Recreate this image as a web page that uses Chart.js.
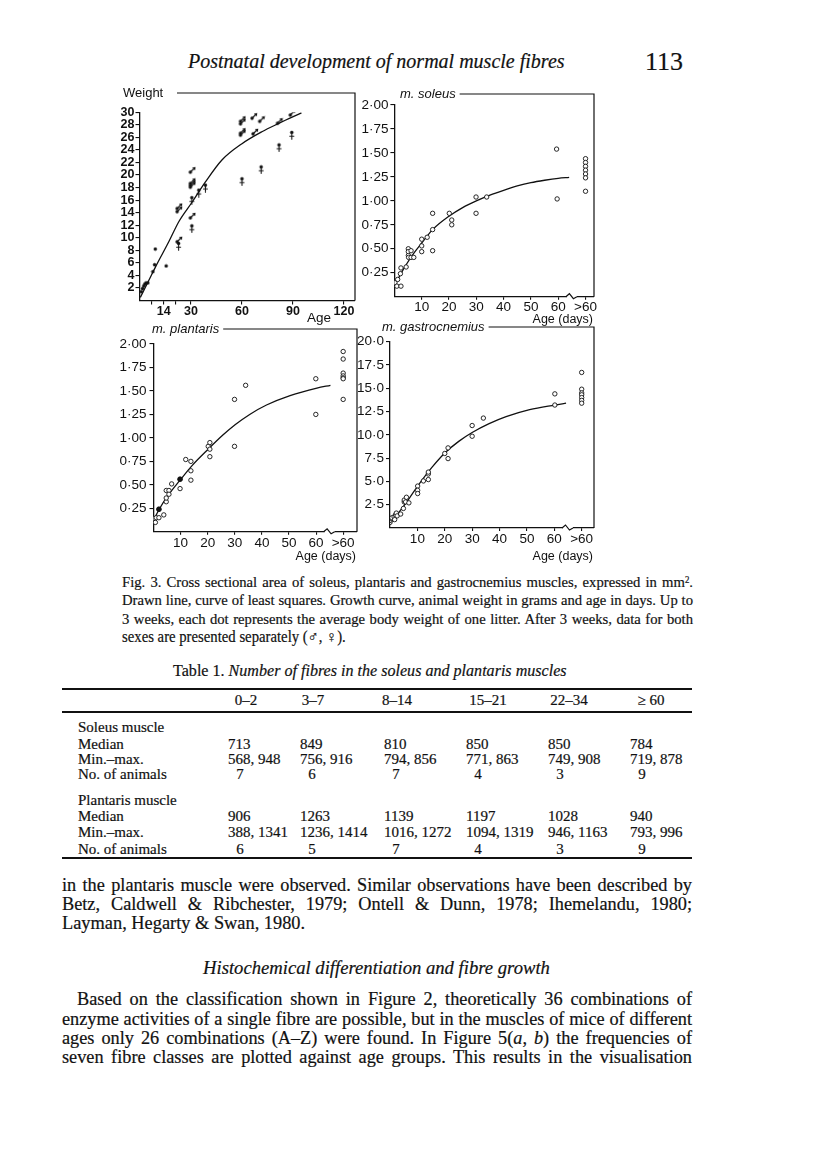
<!DOCTYPE html>
<html><head><meta charset="utf-8">
<script src="https://cdn.jsdelivr.net/npm/chart.js@4.4.1/dist/chart.umd.min.js"></script>
<style>
html,body{margin:0;padding:0;background:#fff;}
#page{position:relative;width:816px;height:1155px;overflow:hidden;background:#fff;color:#111;font-family:"Liberation Serif","Times New Roman",serif;-webkit-text-stroke:0.2px #111;}
.tl{position:absolute;white-space:nowrap;transform-origin:0 50%;}
.tj{position:absolute;white-space:normal;text-align:justify;text-align-last:justify;overflow:visible;transform-origin:0 50%;}
.rule{position:absolute;background:#111;}
canvas{position:absolute;}
sup{font-size:60%;vertical-align:0.45em;line-height:0;}
</style></head><body><div id="page"></div>
<script>
// ---------------- DATA ----------------
// Growth curve (body weight in g vs age in days)
const weightLitterDays   = [0.8, 1.5, 2.2, 2.8, 3.5, 4.6, 7.6, 8.6, 9.0, 15.4];
const weightLitterValues = [1.4, 1.9, 2.3, 2.6, 2.8, 2.8, 4.6, 5.7, 8.2, 5.5];
const weightMaleDays     = [22.7, 22.7, 22.7, 30.5, 30.5, 30.5, 30.5, 30.5, 60, 60, 60, 60, 66.8, 67.4, 71.3, 81.8, 89.3];
const weightMaleValues   = [14.9, 14.4, 9.6, 20.7, 18.9, 18.6, 18.3, 13.4, 28.8, 28.4, 26.9, 26.6, 29.3, 26.8, 28.8, 28.5, 29.8];
const weightFemaleDays   = [22.7, 30.5, 30.5, 34.6, 38.5, 60, 71.3, 81.8, 89.3];
const weightFemaleValues = [8.7, 16.0, 11.5, 17.2, 18.0, 19.0, 20.9, 24.4, 26.4];
const weightCurveDays    = [0.2, 5, 9.2, 17, 22.9, 30.7, 38.5, 48.2, 60, 71.7, 81.4, 95];
const weightCurveValues  = [0.5, 3.1, 5.4, 9.4, 12.6, 15.7, 18.9, 22.4, 25.0, 26.9, 28.2, 29.9];
const weightYTicks = [2,4,6,8,10,12,14,16,18,20,22,24,26,28,30];
const weightXTicks = [7,14,21,30,60,90,120];
const weightXLabels = ['', '14', '', '30', '60', '90', '120'];

// m. soleus (mm2); ">60" group plotted at 70
const soleusDays   = [0.2,0.9,2.4,1.2,2.2,2.4,4.3,5.1,5.1,5.1,5.2,6.1,6.1,7.1,10,10,10,12,14,14,14,20.1,21,21,29.9,29.9,33.8,59.4,59.6,70,70,70,70,70,70,70];
const soleusValues = [0.146,0.11,0.11,0.18,0.24,0.30,0.31,0.50,0.47,0.43,0.41,0.48,0.41,0.41,0.60,0.53,0.47,0.62,0.87,0.70,0.48,0.87,0.80,0.75,1.04,0.87,1.04,1.54,1.02,1.44,1.40,1.36,1.32,1.28,1.24,1.10];
const soleusCurveDays   = [0,2,4,7,10,14,20,25,30,35,40,45,50,55,60,64];
const soleusCurveValues = [0.12,0.22,0.32,0.45,0.56,0.70,0.84,0.93,1.0,1.06,1.11,1.155,1.19,1.215,1.235,1.245];

// m. plantaris (mm2)
const plantarisDays   = [0,0.7,1,2,3.8,4.7,4.7,4.7,5.7,5.7,6.7,9.8,11.9,13.8,13.8,13.8,20.2,20.8,20.8,20.8,29.9,29.9,34,59.9,59.9,70,70,70,70,70,70,70];
const plantarisValues = [0.14,0.10,0.15,0.15,0.18,0.32,0.36,0.44,0.44,0.40,0.51,0.46,0.77,0.75,0.65,0.55,0.91,0.95,0.88,0.80,1.41,0.91,1.56,1.63,1.25,1.92,1.84,1.69,1.66,1.64,1.63,1.41];
const plantarisFilledDays   = [2, 9.8];
const plantarisFilledValues = [0.24, 0.56];
const plantarisCurveDays   = [0,2,5.7,9.8,14.4,20.2,25.6,30.1,35.5,41.7,50.4,60.3,65.3];
const plantarisCurveValues = [0.12,0.235,0.40,0.55,0.71,0.88,1.03,1.14,1.25,1.35,1.45,1.53,1.56];

// m. gastrocnemius (mm2)
const gastroDays   = [0,0,0,0.7,1.5,1.7,2,2.3,2.6,3.9,4.9,5.2,5.2,5.7,6,6.9,10.1,10.1,10.1,12.2,14,14,14,20,21.2,21.2,30,30,34.1,60.2,60.2,70,70,70,70,70,70,70];
const gastroValues = [0.6,0.8,1.0,1.1,1.2,0.9,1.4,1.6,1.3,1.5,2.1,2.8,3.0,2.8,3.3,2.7,4.5,4.05,3.7,5.05,5.2,5.8,6.0,8.0,8.6,7.45,11.0,9.85,11.8,14.4,13.2,16.7,14.9,14.5,14.3,14.0,13.7,13.4];
const gastroCurveDays   = [0,5.4,10.1,15.3,20.2,25.1,30,36.2,42.4,51,60.2,64.3];
const gastroCurveValues = [0.47,2.5,4.5,6.5,8.1,9.3,10.25,11.2,11.95,12.7,13.2,13.4];

const muscleXTicks  = [10,20,30,40,50,60,70];
const muscleXLabels = ['10','20','30','40','50','60','>60'];
const fracYTicks  = [0.25,0.5,0.75,1.0,1.25,1.5,1.75,2.0];
const gastroYTicks = [2.5,5,7.5,10,12.5,15,17.5,20];

// Table 1
const ageGroups = ['0–2','3–7','8–14','15–21','22–34','≥ 60'];
const soleusMedian = [713,849,810,850,850,784];
const soleusMin = [568,756,794,771,749,719];
const soleusMax = [948,916,856,863,908,878];
const soleusN = [7,6,7,4,3,9];
const plantarisMedian = [906,1263,1139,1197,1028,940];
const plantarisMin = [388,1236,1016,1094,946,793];
const plantarisMax = [1341,1414,1272,1319,1163,996];
const plantarisN = [6,5,7,4,3,9];

// ---------------- PAGE TEXT ----------------
const page = document.getElementById('page');
const INK = '#111';
function measureNat(html, style){
  const s = document.createElement('span');
  s.style.cssText = 'position:absolute;visibility:hidden;white-space:nowrap;font-size:100px;font-family:"Liberation Serif","Times New Roman",serif;font-style:'+(style||'normal');
  s.innerHTML = html; document.body.appendChild(s);
  const w = s.getBoundingClientRect().width; s.remove(); return w;
}
// horizontal squeeze per group (glyph shape of the original typeface is narrower)
const squeeze = {cap:0.94, body:0.97, hd:0.97, pn:1, tt:0.96, h2:0.97};
// [group, html, x, width, centerY, mode(j|l), style]
const lines = [
  ['hd','Postnatal development of normal muscle fibres',188,377,62,'l','italic'],
  ['pn','113',645,38,62,'l','normal'],
  ['cap','Fig. 3. Cross sectional area of soleus, plantaris and gastrocnemius muscles, expressed in mm<sup>2</sup>.',122,571,582,'j'],
  ['cap','Drawn line, curve of least squares. Growth curve, animal weight in grams and age in days. Up to',122,571,600,'j'],
  ['cap','3 weeks, each dot represents the average body weight of one litter. After 3 weeks, data for both',122,571,619,'j'],
  ['cap','sexes are presented separately (♂, ♀).',122,571,637,'l'],
  ['tt','Table 1. <i>Number of fibres in the soleus and plantaris muscles</i>',173,394,672,'l'],
  ['body','in the plantaris muscle were observed. Similar observations have been described by',62,630,886,'j'],
  ['body','Betz, Caldwell &amp; Ribchester, 1979; Ontell &amp; Dunn, 1978; Ihemelandu, 1980;',62,630,905,'j'],
  ['body','Layman, Hegarty &amp; Swan, 1980.',62,630,924,'l'],
  ['h2','Histochemical differentiation and fibre growth',203,347,968,'l','italic'],
  ['body','Based on the classification shown in Figure 2, theoretically 36 combinations of',77,615,1000,'j'],
  ['body','enzyme activities of a single fibre are possible, but in the muscles of mice of different',62,630,1020,'j'],
  ['body','ages only 26 combinations (A–Z) were found. In Figure 5(<i>a</i>, <i>b</i>) the frequencies of',62,630,1039,'j'],
  ['body','seven fibre classes are plotted against age groups. This results in the visualisation',62,630,1058,'j']
];
const groupSize = {};
lines.forEach(L=>{
  const [g,html,x,w,y,mode,style] = L;
  if (mode==='l' && !['hd','pn','tt','h2'].includes(g)) return;
  const sq = squeeze[g]||1;
  const fs = 100*w/(measureNat(html,style)*sq);
  groupSize[g] = Math.min(groupSize[g]||1e9, fs);
});
lines.forEach(L=>{
  const [g,html,x,w,y,mode,style] = L;
  const sq = squeeze[g]||1;
  let fs = groupSize[g];
  if (mode==='j') fs *= 0.995;
  const d = document.createElement('div');
  d.className = mode==='j' ? 'tj' : 'tl';
  d.style.left = x+'px'; d.style.top = (y-0.51*fs)+'px';
  d.style.fontSize = fs+'px'; d.style.lineHeight = fs+'px';
  if (mode==='j') d.style.width = (w/sq)+'px';
  if (sq!==1) d.style.transform = 'scaleX('+sq+')';
  if (style) d.style.fontStyle = style;
  d.innerHTML = html; page.appendChild(d);
});
// table
function txt(html, x, y, align, fs){
  const d = document.createElement('div'); d.className='tl';
  d.style.fontSize = fs+'px'; d.style.lineHeight = fs+'px';
  d.style.top = (y-0.51*fs)+'px';
  d.style.left = x+'px';
  if (align==='c'){ d.style.transform='translateX(-50%)'; }
  d.innerHTML = html; page.appendChild(d);
}
function rule(y,h){ const r=document.createElement('div'); r.className='rule'; r.style.left='62px'; r.style.width='630px'; r.style.top=(y-h/2)+'px'; r.style.height=h+'px'; page.appendChild(r); }
rule(689,1.6); rule(712,1.4); rule(858,1.6);
const TFS = 15;
const colX = [228,300,384,466,548,630];
const headC = [246,313,397,488,569,651];
ageGroups.forEach((a,i)=>txt(a, headC[i], 701, 'c', TFS));
txt('Soleus muscle',78,728,'l',TFS);
txt('Median',78,745,'l',TFS); txt('Min.–max.',78,760,'l',TFS); txt('No. of animals',78,775,'l',TFS);
txt('Plantaris muscle',78,801,'l',TFS);
txt('Median',78,817,'l',TFS); txt('Min.–max.',78,833,'l',TFS); txt('No. of animals',78,850,'l',TFS);
colX.forEach((x,i)=>{
  txt(String(soleusMedian[i]), x, 745, 'l', TFS);
  txt(soleusMin[i]+', '+soleusMax[i], x, 760, 'l', TFS);
  txt(String(soleusN[i]), x+12, 775, 'c', TFS);
  txt(String(plantarisMedian[i]), x, 817, 'l', TFS);
  txt(plantarisMin[i]+', '+plantarisMax[i], x, 833, 'l', TFS);
  txt(String(plantarisN[i]), x+12, 850, 'c', TFS);
});

// ---------------- CHARTS ----------------
const SANS = '"Liberation Sans", Arial, sans-serif';
Chart.defaults.font.family = SANS;
Chart.defaults.color = INK;
function mk(w,h,draw){const c=document.createElement('canvas');c.width=w;c.height=h;const g=c.getContext('2d');g.fillStyle=INK;g.strokeStyle=INK;g.lineWidth=1.1;g.lineCap='round';draw(g);return c;}
const dotImg = mk(5,5,g=>{g.beginPath();g.arc(2.5,2.5,1.7,0,Math.PI*2);g.fill();});
const maleImg = mk(9,9,g=>{g.beginPath();g.arc(3,6,1.7,0,Math.PI*2);g.fill();g.beginPath();g.moveTo(3,6);g.lineTo(7,2);g.stroke();g.beginPath();g.moveTo(8.3,0.8);g.lineTo(4.8,1.6);g.lineTo(7.6,4.3);g.closePath();g.fill();});
const femaleImg = mk(7,10,g=>{g.beginPath();g.arc(3.5,2.5,1.7,0,Math.PI*2);g.fill();g.beginPath();g.moveTo(3.5,3);g.lineTo(3.5,9.3);g.moveTo(1.5,6.3);g.lineTo(5.5,6.3);g.stroke();});

const pts = (xs,ys)=>xs.map((x,i)=>({x:x,y:ys[i]}));
const curveDS = (xs,ys)=>({type:'line',data:pts(xs,ys),showLine:true,borderColor:INK,borderWidth:1.3,pointRadius:0,cubicInterpolationMode:'monotone',fill:false});
const circleDS = (xs,ys)=>({data:pts(xs,ys),pointStyle:'circle',pointRadius:2.2,borderWidth:0.9,borderColor:INK,backgroundColor:'#fff'});

function framePlugin(cfg){
  return {id:'frame'+cfg.cx+'_'+cfg.cy, afterDraw(chart){
    const ctx = chart.ctx, a = chart.chartArea, ox = cfg.cx, oy = cfg.cy;
    ctx.save();
    ctx.fillStyle = INK; ctx.strokeStyle = INK; ctx.lineWidth = 1.2;
    ctx.textBaseline = 'middle'; ctx.textAlign = 'left';
    ctx.font = cfg.titleFont;
    ctx.fillText(cfg.title, cfg.titleX-ox, cfg.frameY-oy);
    const tw = ctx.measureText(cfg.title).width;
    const ls = cfg.lineStart!=null ? cfg.lineStart-ox : cfg.titleX-ox+tw+4;
    ctx.beginPath(); ctx.moveTo(ls, cfg.frameY-oy); ctx.lineTo(a.right, cfg.frameY-oy); ctx.lineTo(a.right, a.bottom); ctx.stroke();
    ctx.font = cfg.axisFont; ctx.textAlign = cfg.axisAlign;
    ctx.fillText(cfg.axisTitle, cfg.axisX-ox, cfg.axisY-oy);
    if (cfg.breakAt!=null){
      const px = chart.scales.x.getPixelForValue(cfg.breakAt), y = a.bottom;
      ctx.fillStyle='#fff'; ctx.fillRect(px-5, y-2, 10, 4);
      ctx.beginPath(); ctx.moveTo(px-6,y); ctx.lineTo(px-2.5,y-3); ctx.lineTo(px+1.5,y+2); ctx.lineTo(px+5,y); ctx.stroke();
    }
    ctx.restore();
  }};
}

function panel(cfg){
  const cv = document.createElement('canvas');
  cv.width = cfg.cw; cv.height = cfg.ch;
  cv.style.left = cfg.cx+'px'; cv.style.top = cfg.cy+'px';
  cv.style.width = cfg.cw+'px'; cv.style.height = cfg.ch+'px';
  page.appendChild(cv);
  const A = cfg.area, yW = A.left - cfg.cx, xH = cfg.xAxisH;
  new Chart(cv, {
    type:'scatter',
    data:{datasets:cfg.datasets},
    options:{
      responsive:false, animation:false, devicePixelRatio:1, events:[],
      layout:{padding:{left:0, top:A.top-cfg.cy, right:cfg.cx+cfg.cw-A.right, bottom:cfg.cy+cfg.ch-A.bottom-xH}},
      plugins:{legend:{display:false}, tooltip:{enabled:false}},
      scales:{
        x:{type:'linear', min:0, max:cfg.xMax,
           afterFit:s=>{s.height = xH;},
           afterBuildTicks:s=>{s.ticks = cfg.xTicks.map(v=>({value:v}));},
           grid:{drawOnChartArea:false, drawTicks:true, tickLength:cfg.xTickLen, color:INK, lineWidth:1.1},
           border:{display:true, color:INK, width:1.3},
           ticks:{autoSkip:false, maxRotation:0, minRotation:0, padding:cfg.xPad, font:cfg.tickFont, color:INK,
                  callback:(v)=>cfg.xLabels[cfg.xTicks.indexOf(v)]}},
        y:{type:'linear', min:0, max:cfg.yMax,
           afterFit:s=>{s.width = yW;},
           afterBuildTicks:s=>{s.ticks = cfg.yTicks.map(v=>({value:v}));},
           grid:{drawOnChartArea:false, drawTicks:true, tickLength:cfg.yTickLen, color:INK, lineWidth:1.1},
           border:{display:true, color:INK, width:1.3},
           ticks:{autoSkip:false, padding:cfg.yPad, font:cfg.tickFont, color:INK, callback:cfg.yFmt}}
      }
    },
    plugins:[framePlugin(cfg)]
  });
}

const frac2 = v=>v.toFixed(2).replace('.','·');
const frac1 = v=>v.toFixed(1).replace('.','·');
const tickFontM = {size:13.5, family:SANS};

// Growth curve panel
panel({cx:95, cy:80, cw:275, ch:245, area:{left:140, top:112.3, right:355, bottom:300.5}, xAxisH:20,
  xMax:126.5, yMax:30, xTicks:weightXTicks, xLabels:weightXLabels, yTicks:weightYTicks, yFmt:v=>String(v),
  xTickLen:4, yTickLen:4.5, xPad:0, yPad:1, tickFont:{size:12.5, family:SANS, weight:'bold'},
  title:'Weight', titleX:123, frameY:93, lineStart:177, titleFont:'13px '+SANS,
  axisTitle:'Age', axisX:307, axisY:318, axisAlign:'left', axisFont:'13.5px '+SANS,
  datasets:[
    {data:pts(weightLitterDays,weightLitterValues), pointStyle:dotImg, pointRadius:3},
    {data:pts(weightMaleDays,weightMaleValues), pointStyle:maleImg, pointRadius:4},
    {data:pts(weightFemaleDays,weightFemaleValues), pointStyle:femaleImg, pointRadius:4},
    curveDS(weightCurveDays,weightCurveValues)
  ]});

// m. soleus
panel({cx:350, cy:82, cw:255, ch:245, area:{left:394.4, top:105, right:594, bottom:296.7}, xAxisH:20,
  xMax:73.1, yMax:2, xTicks:muscleXTicks, xLabels:muscleXLabels, yTicks:fracYTicks, yFmt:frac2,
  xTickLen:3, yTickLen:4, xPad:-1, yPad:2, tickFont:tickFontM,
  title:'m. soleus', titleX:400, frameY:94, titleFont:'italic 13px '+SANS,
  axisTitle:'Age (days)', axisX:593, axisY:320, axisAlign:'right', axisFont:'12.5px '+SANS, breakAt:65,
  datasets:[ circleDS(soleusDays,soleusValues), curveDS(soleusCurveDays,soleusCurveValues) ]});

// m. plantaris
panel({cx:108, cy:316, cw:262, ch:252, area:{left:153.5, top:344, right:357, bottom:531.8}, xAxisH:20,
  xMax:75.1, yMax:2, xTicks:muscleXTicks, xLabels:muscleXLabels, yTicks:fracYTicks, yFmt:frac2,
  xTickLen:3, yTickLen:4, xPad:0, yPad:3, tickFont:tickFontM,
  title:'m. plantaris', titleX:152, frameY:329, titleFont:'italic 13px '+SANS,
  axisTitle:'Age (days)', axisX:356, axisY:557, axisAlign:'right', axisFont:'12.5px '+SANS, breakAt:65,
  datasets:[
    {data:pts(plantarisFilledDays,plantarisFilledValues), pointStyle:'circle', pointRadius:2.4, borderWidth:0.9, borderColor:INK, backgroundColor:INK},
    circleDS(plantarisDays,plantarisValues), curveDS(plantarisCurveDays,plantarisCurveValues) ]});

// m. gastrocnemius
panel({cx:350, cy:314, cw:255, ch:254, area:{left:390, top:341.7, right:594, bottom:528}, xAxisH:20,
  xMax:74.5, yMax:20, xTicks:muscleXTicks, xLabels:muscleXLabels, yTicks:gastroYTicks, yFmt:frac1,
  xTickLen:3, yTickLen:4, xPad:0, yPad:2, tickFont:tickFontM,
  title:'m. gastrocnemius', titleX:382, frameY:327, titleFont:'italic 13px '+SANS,
  axisTitle:'Age (days)', axisX:593, axisY:557, axisAlign:'right', axisFont:'12.5px '+SANS, breakAt:65,
  datasets:[ circleDS(gastroDays,gastroValues), curveDS(gastroCurveDays,gastroCurveValues) ]});
</script>
</body></html>
